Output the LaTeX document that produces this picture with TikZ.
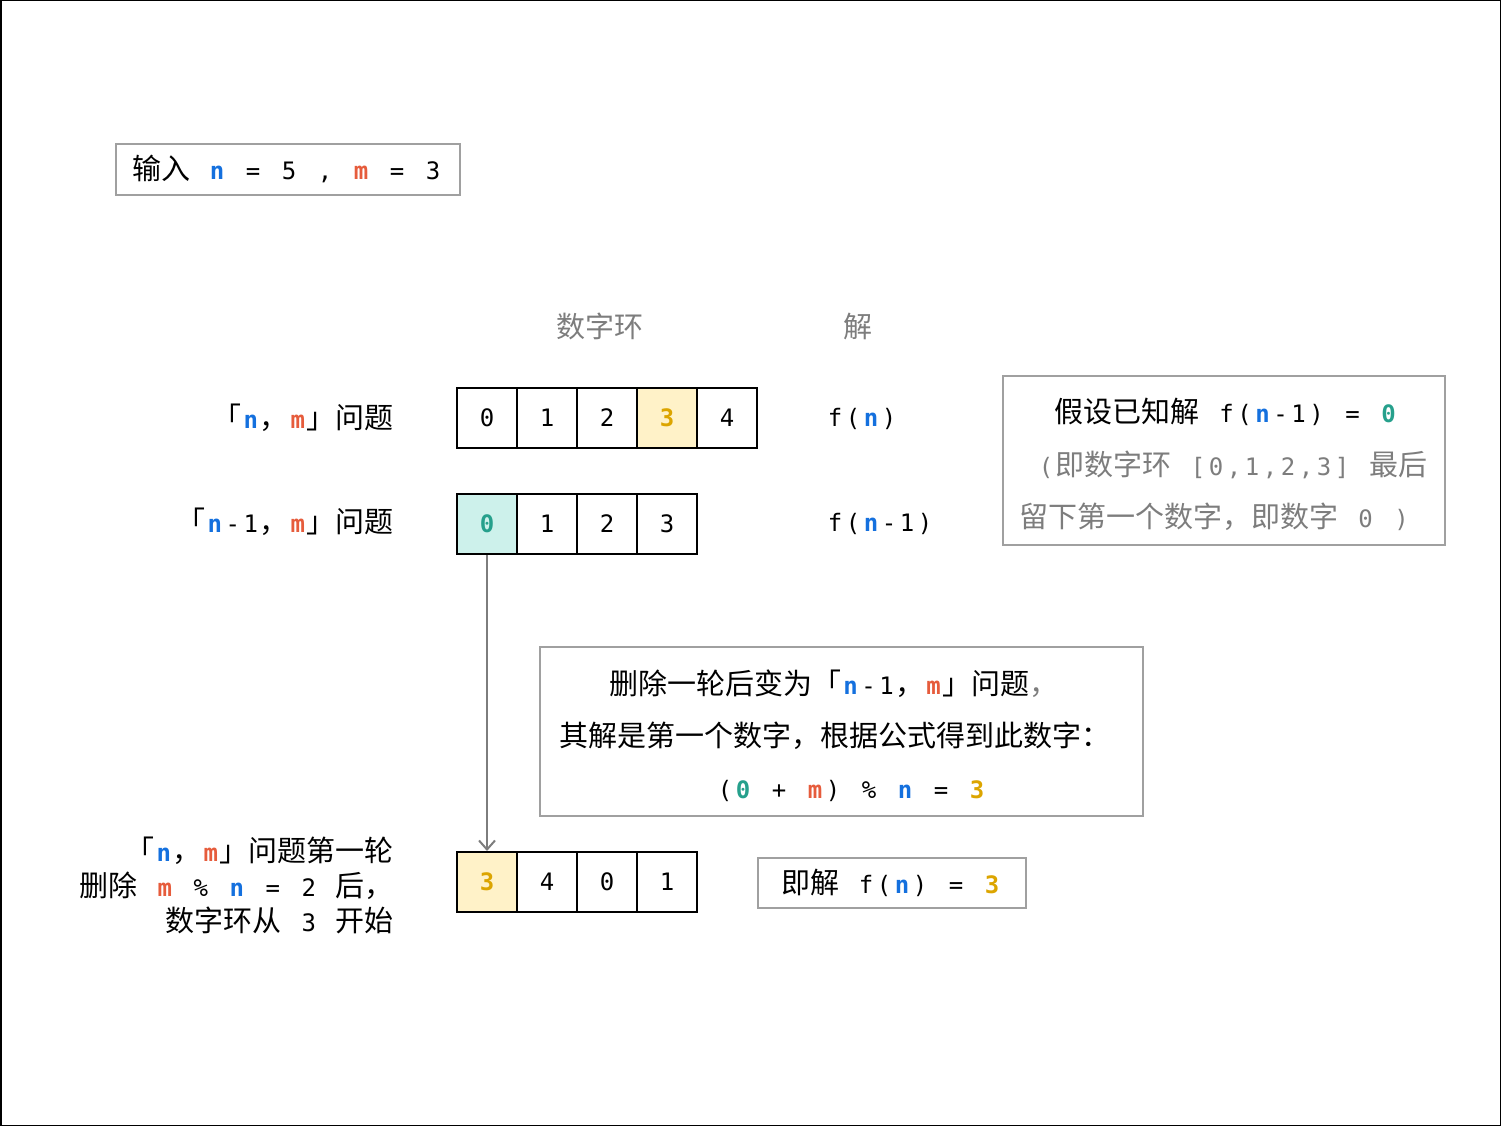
\documentclass[tikz,border=0pt]{standalone}
\usepackage{fontspec}
\setmainfont{DejaVu Sans Mono}
\newfontfamily\cjkfam{Noto Sans CJK SC}
\usetikzlibrary{arrows.meta}
\definecolor{cn}{RGB}{20,112,222}
\definecolor{cm}{RGB}{230,92,60}
\definecolor{cz}{RGB}{38,160,140}
\definecolor{ct}{RGB}{220,165,0}
\definecolor{cg}{RGB}{125,125,125}
\definecolor{bord}{RGB}{160,160,160}
\definecolor{fy}{RGB}{255,242,200}
\definecolor{ft}{RGB}{205,241,235}
\newcommand\C[1]{{\cjkfam\fontsize{29}{32}\selectfont #1}}
\newcommand\N{{\bfseries\color{cn}n}}
\newcommand\M{{\bfseries\color{cm}m}}
\newcommand\Z{{\bfseries\color{cz}0}}
\newcommand\T{{\bfseries\color{ct}3}}
\makeatletter
\newcommand\ms[1]{\@tfor\msx:=#1\do{\makebox[18pt]{\msx}}}
\makeatother
\tikzset{
  every node/.style={font=\fontsize{24}{28}\selectfont, inner sep=0pt},
  cell/.style={draw=black, line width=2pt, minimum width=60pt, minimum height=60pt},
  box/.style={draw=bord, line width=2pt},
  txt/.style={anchor=base},
  lbl/.style={anchor=base east},
  arr/.style={draw=cg, line width=2pt, -{Straight Barb[length=9pt,width=16pt,line width=2pt]}}
}
\begin{document}
\begin{tikzpicture}[x=1pt,y=-1pt]
\useasboundingbox (0,0) rectangle (1501,1126);
\draw[line width=3pt] (0,0) rectangle (1501,1126);

% input box
\node[box, minimum width=344pt, minimum height=51pt] (inbox) at (288,169.5) {};
\node[txt] (intext) at (287,179) {\C{输入}\ms{~\N~=~5~,~\M~=~3}};

% headers
\node[txt, text=cg] (h1) at (600,337) {\C{数字环}};
\node[txt, text=cg] (h2) at (858,337) {\C{解}};

% row 1
\node[lbl] (l1) at (394,428) {\C{「}\ms{\N}\C{，}\ms{\M}\C{」问题}};
\node[cell] (a0) at (487,418) {0};
\node[cell] (a1) at (547,418) {1};
\node[cell] (a2) at (607,418) {2};
\node[cell, fill=fy] (a3) at (667,418) {\T};
\node[cell] (a4) at (727,418) {4};
\node[txt, anchor=base west] (f1) at (826,426) {\ms{f(\N)}};

% row 2
\node[lbl] (l2) at (394,532) {\C{「}\ms{\N-1}\C{，}\ms{\M}\C{」问题}};
\node[cell, fill=ft] (b0) at (487,524) {\Z};
\node[cell] (b1) at (547,524) {1};
\node[cell] (b2) at (607,524) {2};
\node[cell] (b3) at (667,524) {3};
\node[txt, anchor=base west] (f2) at (826,531) {\ms{f(\N-1)}};

% right box
\node[box, minimum width=442pt, minimum height=169pt] (rbox) at (1224,460.5) {};
\node[txt] (r1) at (1226,422) {\C{假设已知解}\ms{~f(\N-1)~=~\Z}};
\node[txt, text=cg] (r2) at (1232,475) {\ms{(}\C{即数字环}\ms{~[0,1,2,3]~}\C{最后}};
\node[txt, text=cg] (r3) at (1215,527) {\C{留下第一个数字，即数字}\ms{~0~)}};

% middle box
\node[box, minimum width=603pt, minimum height=169pt] (mbox) at (841.5,731.5) {};
\node[txt] (m1) at (834,694) {\C{删除一轮后变为「}\ms{\N-1}\C{，}\ms{\M}\C{」问题}\textcolor{cg}{\C{，}}};
\node[txt] (m2) at (835,746) {\C{其解是第一个数字，根据公式得到此数字：}};
\node[txt] (m3) at (851,798) {\ms{(\Z~+~\M)~\%~\N~=~\T}};

% row 3
\node[cell, fill=fy] (c0) at (487,882) {\T};
\node[cell] (c1) at (547,882) {4};
\node[cell] (c2) at (607,882) {0};
\node[cell] (c3) at (667,882) {1};

\node[lbl] (l3a) at (394,861) {\C{「}\ms{\N}\C{，}\ms{\M}\C{」问题第一轮}};
\node[lbl] (l3b) at (394,896) {\C{删除}\ms{~\M~\%~\N~=~2~}\C{后，}};
\node[lbl] (l3c) at (394,931) {\C{数字环从}\ms{~3~}\C{开始}};

% result box
\node[box, minimum width=268pt, minimum height=50pt] (resbox) at (892,883) {};
\node[txt] (res) at (891,893) {\C{即解}\ms{~f(\N)~=~\T}};

% arrow
\draw[arr] (b0.south) -- (c0.north);
\end{tikzpicture}
\end{document}
